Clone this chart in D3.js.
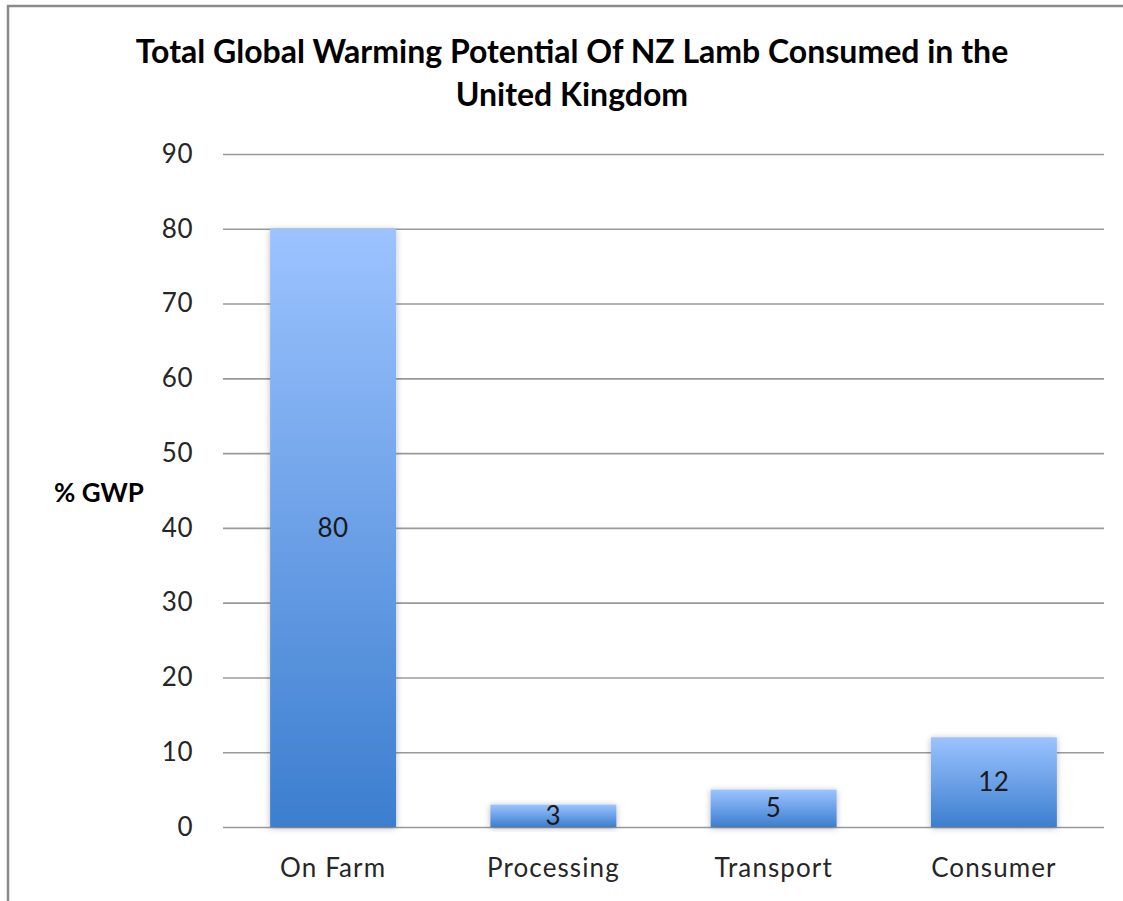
<!DOCTYPE html>
<html>
<head>
<meta charset="utf-8">
<script src="https://cdn.jsdelivr.net/npm/d3@7/dist/d3.min.js"></script>
<style>
  html, body { margin: 0; padding: 0; background: #fff; }
  svg { display: block; }
  text { font-family: Lato, "Open Sans", sans-serif; }
</style>
</head>
<body>
<svg id="chart" width="1123" height="901"></svg>
<script>
// Chart data
const categories = ["On Farm", "Processing", "Transport", "Consumer"];
const gwpValues = [80, 3, 5, 12];
const yTicks = [0, 10, 20, 30, 40, 50, 60, 70, 80, 90];
const titleLines = ["Total Global Warming Potential Of NZ Lamb Consumed in the", "United Kingdom"];
const yAxisLabel = "% GWP";

const svg = d3.select("#chart");
const W = 1123, H = 901;
const plot = { left: 223, right: 1104, top: 154, bottom: 827 };

// Outer frame (its right and bottom edges run past the page)
svg.append("rect")
  .attr("x", 8).attr("y", 6)
  .attr("width", W + 20).attr("height", H + 20)
  .attr("fill", "#fff")
  .attr("stroke", "#8a8a8a")
  .attr("stroke-width", 2.5);

const defs = svg.append("defs");
const grad = defs.append("linearGradient")
  .attr("id", "barFill")
  .attr("x1", 0).attr("y1", 0).attr("x2", 0).attr("y2", 1);
grad.append("stop").attr("offset", "0%").attr("stop-color", "#9cc3ff");
grad.append("stop").attr("offset", "100%").attr("stop-color", "#3c7ecf");

const shadow = defs.append("filter")
  .attr("id", "barShadow")
  .attr("x", "-20%").attr("y", "-20%").attr("width", "140%").attr("height", "140%");
shadow.append("feDropShadow")
  .attr("dx", 0).attr("dy", 1)
  .attr("stdDeviation", 3)
  .attr("flood-color", "#000")
  .attr("flood-opacity", 0.28);

// Scales
const x = d3.scaleBand()
  .domain(categories)
  .range([plot.left, plot.right])
  .paddingInner(0.428)
  .paddingOuter(0.214);

const y = d3.scaleLinear()
  .domain([0, 90])
  .range([plot.bottom, plot.top]);

// Gridlines + tick labels via a left axis
const yAxis = d3.axisLeft(y)
  .tickValues(yTicks)
  .tickSize(-(plot.right - plot.left))
  .tickPadding(30)
  .tickFormat(d3.format("d"));

const gAxis = svg.append("g")
  .attr("transform", `translate(${plot.left},0)`)
  .call(yAxis);
gAxis.select(".domain").remove();
gAxis.selectAll(".tick line")
  .attr("stroke", "#9a9a9a")
  .attr("stroke-width", 1.6);
gAxis.selectAll(".tick text")
  .attr("font-family", "Lato, 'Open Sans', sans-serif")
  .attr("font-size", 26)
  .attr("letter-spacing", 0.5)
  .attr("fill", "#262626");

// Bars
const data = categories.map((c, i) => ({ cat: c, value: gwpValues[i] }));

svg.append("g")
  .selectAll("rect")
  .data(data)
  .join("rect")
  .attr("x", d => x(d.cat))
  .attr("y", d => y(d.value))
  .attr("width", x.bandwidth())
  .attr("height", d => y(0) - y(d.value))
  .attr("fill", "url(#barFill)")
  .attr("filter", "url(#barShadow)");

// Value labels centred in each bar
svg.append("g")
  .selectAll("text")
  .data(data)
  .join("text")
  .attr("x", d => x(d.cat) + x.bandwidth() / 2)
  .attr("y", d => y(d.value / 2))
  .attr("dy", "0.35em")
  .attr("text-anchor", "middle")
  .attr("font-size", 26)
  .attr("letter-spacing", 0.5)
  .attr("fill", "#1a1a1a")
  .text(d => d.value);

// Category axis labels
const xAxis = d3.axisBottom(x).tickSize(0).tickPadding(0);
const gx = svg.append("g")
  .attr("transform", `translate(0,${plot.bottom})`)
  .call(xAxis);
gx.select(".domain").remove();
gx.selectAll(".tick text")
  .attr("font-family", "Lato, 'Open Sans', sans-serif")
  .attr("font-size", 26)
  .attr("letter-spacing", 1.1)
  .attr("fill", "#262626")
  .attr("dy", 0)
  .attr("y", 50);

// Title
const title = svg.append("text")
  .attr("text-anchor", "middle")
  .attr("font-weight", "bold")
  .attr("font-size", 32)
  .attr("fill", "#000");
title.selectAll("tspan")
  .data(titleLines)
  .join("tspan")
  .attr("x", 572)
  .attr("y", (d, i) => 63 + i * 43)
  .text(d => d);

// Y axis label
svg.append("text")
  .attr("x", 99)
  .attr("y", 502)
  .attr("text-anchor", "middle")
  .attr("font-weight", "bold")
  .attr("font-size", 26)
  .attr("fill", "#000")
  .text(yAxisLabel);
</script>
</body>
</html>
